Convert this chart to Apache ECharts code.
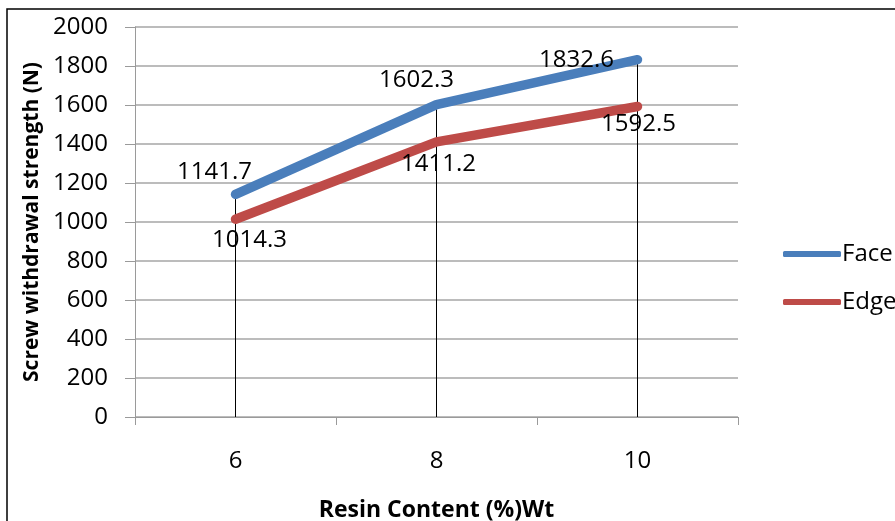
<!DOCTYPE html>
<html>
<head>
<meta charset="utf-8">
<script src="https://cdn.jsdelivr.net/npm/echarts@6/dist/echarts.min.js"></script>
<style>
  html, body { margin: 0; padding: 0; background: #fff; overflow: hidden; }
  #chart { width: 895px; height: 521px; }
</style>
</head>
<body>
<div id="chart"></div>
<script>
// Resin content categories (% wt) and screw withdrawal strength (N)
const categories = ['6', '8', '10'];
const faceValues = [1141.7, 1602.3, 1832.6];
const edgeValues = [1014.3, 1411.2, 1592.5];
const yTicks = { min: 0, max: 2000, interval: 200 };

// Label placement per point [dx, dy]
const faceLabelOffsets = [[-21, -22], [-20, -24], [-61, 1]];
const edgeLabelOffsets = [[14, 21], [2, 22], [1, 18]];

const font = 'Open Sans';
const blue = '#4A7EBB';
const red = '#BE4B48';

const chart = echarts.init(document.getElementById('chart'));

function labelled(values, offsets) {
  return values.map((v, i) => ({
    value: v,
    label: { offset: offsets[i] }
  }));
}

function lineSeries(name, values, offsets, color, z) {
  return {
    name: name,
    type: 'line',
    data: labelled(values, offsets),
    symbol: 'circle',
    symbolSize: 1,
    showSymbol: true,
    lineStyle: { color: color, width: 9.5, cap: 'round', join: 'round' },
    itemStyle: { color: color },
    label: {
      show: true,
      position: 'inside',
      fontFamily: font,
      fontSize: 24,
      color: '#000',
      formatter: p => p.value.toFixed(1)
    },
    z: z
  };
}

chart.setOption({
  animation: false,
  textStyle: { fontFamily: font },
  graphic: [{
    type: 'rect',
    shape: { x: 7, y: 9, width: 900, height: 530 },
    style: { fill: 'none', stroke: '#000', lineWidth: 1.5 },
    silent: true,
    z: -1
  }],
  grid: { left: 135, right: 157, top: 27, bottom: 104, outerBoundsMode: 'none', containLabel: false },
  legend: {
    orient: 'vertical',
    left: 778,
    top: 237,
    itemWidth: 58,
    itemHeight: 6,
    itemGap: 24,
    icon: 'roundRect',
    textStyle: { fontFamily: font, fontSize: 24, color: '#000', padding: [0, 0, 0, -4] },
    data: ['Face', 'Edge']
  },
  xAxis: {
    type: 'category',
    data: categories,
    boundaryGap: true,
    name: 'Resin Content (%)Wt',
    nameLocation: 'middle',
    nameGap: 82,
    nameTextStyle: { fontFamily: font, fontSize: 23, fontWeight: 'bold', color: '#000' },
    axisLine: { lineStyle: { color: '#9a9a9a', width: 1 } },
    axisTick: { show: true, length: 8, alignWithLabel: false, lineStyle: { color: '#9a9a9a' } },
    axisLabel: { fontFamily: font, fontSize: 24, color: '#000', margin: 32 },
    splitLine: { show: false }
  },
  yAxis: {
    type: 'value',
    min: yTicks.min,
    max: yTicks.max,
    interval: yTicks.interval,
    name: 'Screw withdrawal strength (N)',
    nameLocation: 'middle',
    nameGap: 88,
    nameTextStyle: { fontFamily: font, fontSize: 21, fontWeight: 'bold', color: '#000' },
    axisLine: { show: true, lineStyle: { color: '#9a9a9a', width: 1 } },
    axisTick: { show: true, length: 10, lineStyle: { color: '#9a9a9a' } },
    axisLabel: { fontFamily: font, fontSize: 24, color: '#000', margin: 27, formatter: v => String(v) },
    splitLine: { show: true, lineStyle: { color: '#a6a6a6', width: 1.5 } }
  },
  series: [
    {
      // drop lines from the upper series down to the category axis
      name: 'drop',
      type: 'bar',
      data: faceValues,
      barWidth: 1,
      itemStyle: { color: '#000' },
      silent: true,
      z: 1
    },
    lineSeries('Face', faceValues, faceLabelOffsets, blue, 2),
    lineSeries('Edge', edgeValues, edgeLabelOffsets, red, 3)
  ]
});
</script>
</body>
</html>
